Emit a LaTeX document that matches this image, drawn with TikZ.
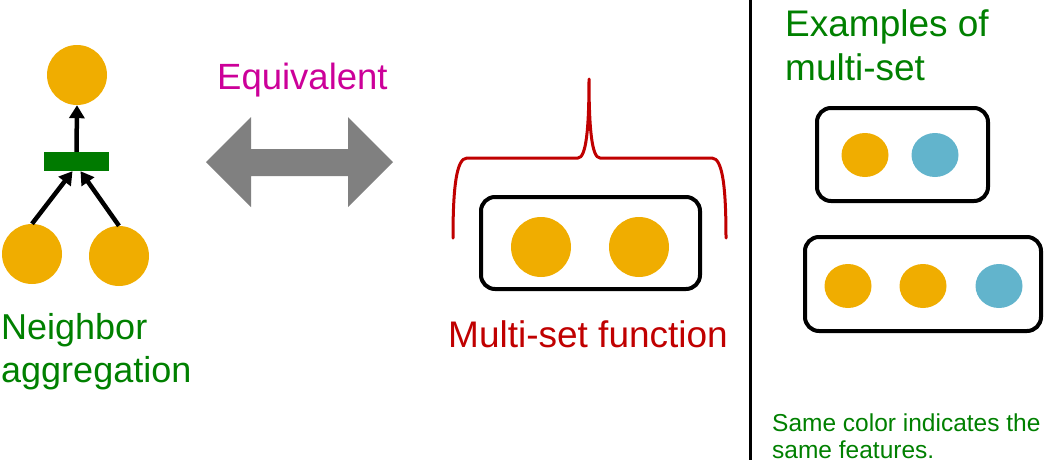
\documentclass[tikz,border=0pt]{standalone}
\usepackage{fontspec}
\setmainfont{Liberation Sans}
\usetikzlibrary{arrows.meta,shapes.geometric}
\definecolor{dotorange}{RGB}{240,173,0}
\definecolor{dotblue}{RGB}{98,180,204}
\definecolor{txtgreen}{RGB}{0,128,0}
\definecolor{bargreen}{RGB}{0,122,0}
\definecolor{eqmagenta}{RGB}{204,0,153}
\definecolor{msred}{RGB}{192,0,0}
\definecolor{arrgray}{RGB}{128,128,128}
\tikzset{
  dot/.style={circle,fill=dotorange,minimum size=60pt,inner sep=0pt},
  odot/.style={ellipse,fill=#1,minimum width=47pt,minimum height=44pt,inner sep=0pt},
  setbox/.style={draw=black,line width=4pt,rounded corners=14pt,inner sep=0pt},
  agg/.style={fill=bargreen,minimum width=65pt,minimum height=19pt,inner sep=0pt},
  conn/.style={line width=4.5pt,-{Triangle[length=13pt,width=15pt]}},
  bigtxt/.style={inner sep=0pt,anchor=base west,font=\fontsize{36.5}{40}\selectfont},
  smalltxt/.style={inner sep=0pt,anchor=base west,font=\fontsize{24.5}{28}\selectfont,text=txtgreen}
}
\begin{document}
\begin{tikzpicture}[x=1pt,y=-1pt]
\useasboundingbox (0,0) rectangle (1045,464);
% left: neighbor aggregation
\node[dot] (top) at (77,75) {};
\node[agg] (bar) at (76.5,161.5) {};
\node[dot] (bl) at (32,254) {};
\node[dot] (br) at (119,256) {};
\draw[conn] (bar.north) -- (top.south);
\draw[conn] (bl.north) -- ([xshift=-4pt]bar.south);
\draw[conn] (br.north) -- ([xshift=4pt]bar.south);
\node[bigtxt,text=txtgreen,font=\fontsize{36}{40}\selectfont] (nb1) at (1,339) {Neighbor};
\node[bigtxt,text=txtgreen,font=\fontsize{36}{40}\selectfont] (nb2) at (1,382) {aggregation};
% equivalent arrow
\node[bigtxt,text=eqmagenta] (eq) at (217,89) {Equivalent};
\fill[arrgray] (206,162) -- (251,117) -- (251,149) -- (348,149) -- (348,117)
  -- (393,162) -- (348,207) -- (348,176) -- (251,176) -- (251,207) -- cycle;
% multi-set function
\draw[msred,line width=3pt,line cap=round,line join=round]
  (453,238) .. controls (453,190) and (456,158) .. (467,158) -- (578,158)
  .. controls (586,158) and (589,130) .. (589,79)
  .. controls (589,130) and (592,158) .. (600,158) -- (712,158)
  .. controls (723,158) and (726,190) .. (726,238);
\node[setbox,minimum width=219pt,minimum height=92pt] (ms) at (590.5,243) {};
\node[dot] (m1) at (541,247) {};
\node[dot] (m2) at (639,247) {};
\node[bigtxt,text=msred,font=\fontsize{37}{40}\selectfont] (msl) at (448,347) {Multi-set function};
% divider
\draw[line width=3pt] (750,0) -- (750,460);
% right panel
\node[bigtxt,text=txtgreen,font=\fontsize{37}{40}\selectfont] (ex1) at (785,36) {Examples of};
\node[bigtxt,text=txtgreen,font=\fontsize{37}{40}\selectfont] (ex2) at (785,80) {multi-set};
\node[setbox,minimum width=171pt,minimum height=93pt] (b1) at (902.5,154.5) {};
\node[odot=dotorange] (e11) at (865,155) {};
\node[odot=dotblue] (e12) at (935,155) {};
\node[setbox,minimum width=236pt,minimum height=94pt] (b2) at (923,284) {};
\node[odot=dotorange] (e21) at (848,286) {};
\node[odot=dotorange] (e22) at (923,286) {};
\node[odot=dotblue] (e23) at (999,286) {};
\node[smalltxt] (n1) at (772,431) {Same color indicates the};
\node[smalltxt] (n2) at (772,458) {same features.};
\end{tikzpicture}
\end{document}
